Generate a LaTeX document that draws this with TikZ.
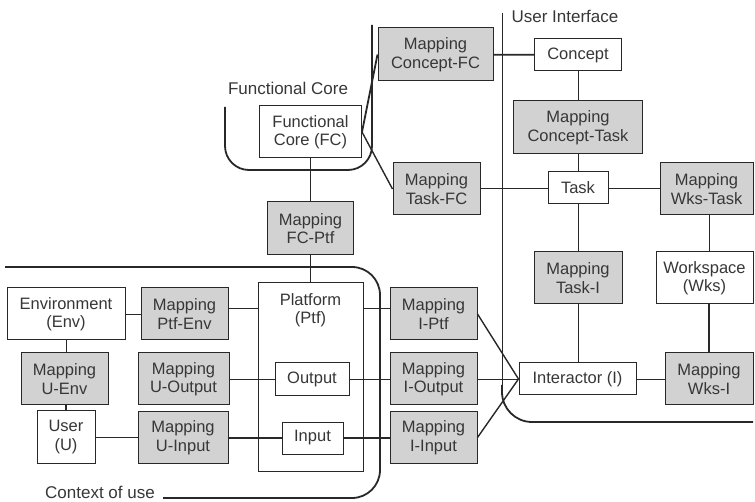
\documentclass[tikz,border=0pt]{standalone}
\usepackage{fontspec}
\setmainfont{Liberation Sans}
\newcommand\dfont{\fontsize{16.5}{18.5}\selectfont}
\newcommand\lfont{\fontsize{17}{19}\selectfont}
\definecolor{ink}{RGB}{40,40,40}
\definecolor{txt}{RGB}{55,55,55}
\definecolor{mapfill}{RGB}{210,210,210}
\begin{document}
\begin{tikzpicture}[x=1pt,y=-1pt,
  box/.style={draw=ink, line width=1pt, fill=white, align=center,
              inner sep=0pt, font=\dfont, text=txt},
  map/.style={box, fill=mapfill},
  thinline/.style={draw=ink, line width=0.9pt},
  heavy/.style={draw=ink, line width=1.8pt},
  midline/.style={draw=ink, line width=1.4pt},
  boundary/.style={draw=ink, line width=1.8pt, rounded corners=24pt},
  lbl/.style={font=\lfont, text=txt, inner sep=0pt}]
\useasboundingbox (0,0) rectangle (755,502);

% ---- boundaries ----
\draw[boundary] (225,107) -- (225,170) -- (372,170) -- (372,25);
\draw[thinline] (502,13) -- (502,395);
\draw[boundary, rounded corners=30pt] (502,385) -- (502,422) -- (753,422);
\draw[boundary, rounded corners=28pt] (5,267) -- (380,267) -- (380,498) -- (163,498);

\node[lbl] (lfc) at (288,88) {Functional Core};
\node[lbl] (lui) at (565,16) {User Interface};
\node[lbl, anchor=base] (lcu) at (100,498) {Context of use};

% ---- functional core side ----
\node[box] (fc) at (310.5,132) [minimum width=102pt, minimum height=52pt] {Functional\\Core (FC)};
\node[map] (mfcptf) at (310.5,228.5) [minimum width=86pt, minimum height=53pt] {Mapping\\FC-Ptf};

% ---- user interface side ----
\node[map] (mcfc) at (435.5,54.5) [minimum width=115pt, minimum height=53pt] {Mapping\\Concept-FC};
\node[box] (concept) at (578,55) [minimum width=87pt, minimum height=32pt] {Concept};
\node[map] (mct) at (578,127.5) [minimum width=129pt, minimum height=53pt] {Mapping\\Concept-Task};
\node[box] (task) at (578,188) [minimum width=60pt, minimum height=32pt] {Task};
\node[map] (mtfc) at (436.5,189) [minimum width=87pt, minimum height=52pt] {Mapping\\Task-FC};
\node[map] (mwt) at (706.5,189) [minimum width=93pt, minimum height=52pt] {Mapping\\Wks-Task};
\node[map] (mti) at (578,278) [minimum width=88pt, minimum height=52pt] {Mapping\\Task-I};
\node[box] (wks) at (704.5,278) [minimum width=97pt, minimum height=52pt] {Workspace\\(Wks)};
\node[map] (mip) at (433.5,314) [minimum width=87pt, minimum height=52pt] {Mapping\\I-Ptf};
\node[map] (mio) at (433.5,379) [minimum width=87pt, minimum height=52pt] {Mapping\\I-Output};
\node[map] (mii) at (433.5,437.5) [minimum width=87pt, minimum height=51pt] {Mapping\\I-Input};
\node[box] (inter) at (577.5,379) [minimum width=117pt, minimum height=32pt] {Interactor (I)};
\node[map] (mwi) at (709,379) [minimum width=88pt, minimum height=52pt] {Mapping\\Wks-I};

% ---- context of use ----
\node[box] (env) at (66,314) [minimum width=118pt, minimum height=52pt] {Environment\\(Env)};
\node[map] (mpe) at (184.5,314) [minimum width=87pt, minimum height=52pt] {Mapping\\Ptf-Env};
\node[box] (ptf) at (310.5,377) [minimum width=105pt, minimum height=188pt] {};
\node[lbl, font=\dfont, align=center] (ptftext) at (310.5,310) {Platform\\(Ptf)};
\node[map] (mue) at (64.5,379) [minimum width=87pt, minimum height=52pt] {Mapping\\U-Env};
\node[map] (muo) at (183.5,379) [minimum width=91pt, minimum height=52pt] {Mapping\\U-Output};
\node[box] (output) at (312,379.5) [minimum width=74pt, minimum height=33pt] {Output};
\node[box] (user) at (66,437) [minimum width=58pt, minimum height=52pt] {User\\(U)};
\node[map] (mui) at (183,437.5) [minimum width=90pt, minimum height=51pt] {Mapping\\U-Input};
\node[box] (input) at (312.5,438) [minimum width=61pt, minimum height=32pt] {Input};

% ---- connectors ----
\draw[heavy] (fc) -- (mfcptf);
\draw[heavy] (mfcptf) -- (ptf);
\draw[heavy] (fc.east) -- (mcfc.west);
\draw[midline] (fc.east) -- (mtfc.west);

\draw[heavy] (concept) -- (mcfc);
\draw[thinline] (concept) -- (mct);
\draw[thinline] (mct) -- (task);
\draw[thinline] (task.west) -- (task.west -| mtfc.east);
\draw[thinline] (task.east) -- (task.east -| mwt.west);
\draw[thinline] (task) -- (mti);
\draw[thinline] (mti.south) -- (mti.south |- inter.north);
\draw[thinline] (mwi.north |- mwt.south) -- (mwi.north |- wks.north);
\draw[heavy] (mwi.north |- wks.south) -- (mwi.north);
\draw[thinline] (inter) -- (mwi);

\draw[midline] (mip.east) -- (inter.west);
\draw[thinline] (mio.east) -- (inter.west);
\draw[midline] (mii.east) -- (inter.west);

\draw[thinline] ([yshift=6pt]mip.west) -- ([yshift=6pt]mip.west -| ptf.east);
\draw[thinline] (output.east) -- (output.east -| mio.west);
\draw[heavy] (input.east) -- (input.east -| mii.west);
\draw[heavy] (input.west) -- (input.west -| mui.east);
\draw[thinline] (muo.east) -- (muo.east -| output.west);
\draw[thinline] ([yshift=6pt]mpe.east) -- ([yshift=6pt]mpe.east -| ptf.west);
\draw[thinline] (env) -- (mpe);
\draw[thinline] (env.south) -- (env.south |- mue.north);
\draw[heavy] (user.north |- mue.south) -- (user.north);
\draw[thinline] (user.east) -- (user.east -| mui.west);
\end{tikzpicture}
\end{document}
